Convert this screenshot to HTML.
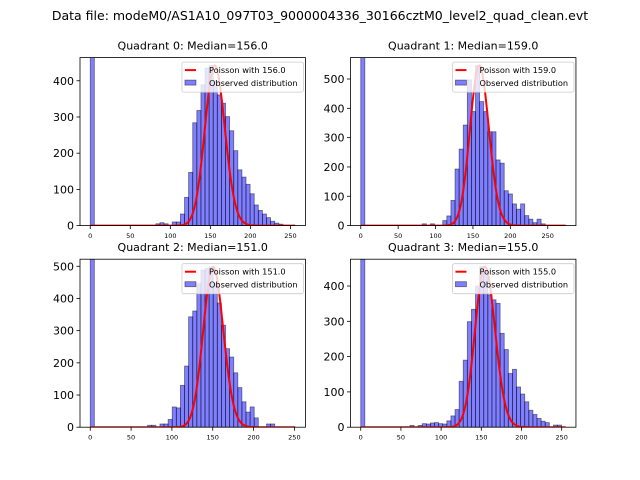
<!DOCTYPE html>
<html><head><meta charset="utf-8"><style>
body{margin:0;background:#fff}
svg{display:block;font-family:"DejaVu Sans","Liberation Sans",sans-serif}
</style></head><body>
<svg id="fig" width="640" height="480" viewBox="0 0 640 480" xmlns="http://www.w3.org/2000/svg">
<rect width="640" height="480" fill="#fff"/>
<text x="320" y="20" font-size="12.5" text-anchor="middle">Data file: modeM0/AS1A10_097T03_9000004336_30166cztM0_level2_quad_clean.evt</text>
</svg>
<script>
const quadNames = ["Quadrant 0","Quadrant 1","Quadrant 2","Quadrant 3"];
const medians = [156.0, 159.0, 151.0, 155.0];
const dataMax = [256, 274, 251, 255];
const yMax = [464, 573, 522, 476];
const yTicks0 = [0,100,200,300,400];
const yTicks1 = [0,100,200,300,400,500];
const yTicks2 = [0,100,200,300,400,500];
const yTicks3 = [0,100,200,300,400];
const xTicks = [0,50,100,150,200,250];
const counts0 = [1000,0,0,0,0,0,0,0,0,0,0,0,0,0,0,0,5,8,5,0,10,10,32,78,147,284,318,389,435,442,400,361,338,301,262,207,154,134,114,88,57,42,32,22,12,7,4,0,0,0];
const counts1 = [1000,0,0,0,0,0,0,0,0,0,0,0,0,0,0,6,0,6,0,0,17,33,86,193,261,343,497,389,546,423,389,320,320,224,213,119,108,74,56,74,34,22,10,22,6,0,0,0,0,0];
const counts2 = [1000,0,0,0,0,0,0,0,0,0,0,0,0,0,6,6,0,10,10,24,63,60,130,190,343,361,446,488,493,498,446,386,317,244,218,169,123,79,47,63,29,0,0,10,10,0,0,0,0,0];
const counts3 = [1000,0,0,0,0,0,0,0,0,0,0,0,5,0,5,10,9,12,13,10,9,18,32,50,130,190,299,334,400,455,440,375,361,351,266,220,152,164,114,94,72,48,36,25,17,13,0,6,6,0];
const allCounts = [counts0,counts1,counts2,counts3];
const allYTicks = [yTicks0,yTicks1,yTicks2,yTicks3];

const NS="http://www.w3.org/2000/svg";
const svg=document.getElementById('fig');
function mk(tag,attrs,parent){const e=document.createElementNS(NS,tag);for(const k in attrs)e.setAttribute(k,attrs[k]);(parent||svg).appendChild(e);return e;}
const boxes=[[80,57.6],[350.5,57.6],[80,259.2],[350.5,259.2]];
const W=225.45,H=168;
function lgamma(n){let s=0;for(let k=2;k<=n;k++)s+=Math.log(k);return s;}
for(let q=0;q<4;q++){
  const [L,T]=boxes[q];
  const xmin=-0.05*dataMax[q], xmax=1.05*dataMax[q];
  const sx=v=>L+(v-xmin)/(xmax-xmin)*W;
  const sy=v=>T+H-v/yMax[q]*H;
  const g=mk('g',{});
  
  
  const cp=mk('clipPath',{id:'c'+q},g);
  mk('rect',{x:L,y:T,width:W,height:H},cp);
  const plot=mk('g',{'clip-path':'url(#c'+q+')'},g);
  const cnt=allCounts[q], n=cnt.length, bw=dataMax[q]/n;
  cnt.forEach((c,i)=>{
    if(c<=0)return;
    const x0=sx(i*bw),x1=sx((i+1)*bw);
    const r=mk('rect',{x:x0,y:sy(c),width:x1-x0,height:sy(0)-sy(c),fill:'rgba(0,0,255,0.5)',stroke:'rgba(0,0,0,0.5)','stroke-width':0.8},plot);
    
    
  });
  const lam=medians[q];
  const peak=Math.max(...cnt.slice(1));
  let pts=[],pm=[],mx=0;
  for(let k=0;k<=dataMax[q];k++){const p=Math.exp(k*Math.log(lam)-lam-lgamma(k));pm.push(p);if(p>mx)mx=p;}
  pm.forEach((p,k)=>pts.push(sx(k).toFixed(2)+','+sy(p/mx*peak).toFixed(2)));
  const pl=mk('polyline',{points:pts.join(' '),fill:'none',stroke:'#ff0000','stroke-width':2},plot);
  
  
  mk('rect',{x:L,y:T,width:W,height:H,fill:'none',stroke:'#000','stroke-width':0.8},g);
  xTicks.forEach(t=>{
    if(t>xmax)return;
    mk('line',{x1:sx(t),x2:sx(t),y1:T+H,y2:T+H+3.5,stroke:'#000','stroke-width':0.8},g);
    const tx=mk('text',{x:sx(t),y:T+H+12.5,'font-size':6.5,'text-anchor':'middle'},g);
    tx.textContent=t;
    
    
  });
  allYTicks[q].forEach(t=>{
    mk('line',{x1:L-3.5,x2:L,y1:sy(t),y2:sy(t),stroke:'#000','stroke-width':0.8},g);
    const tx=mk('text',{x:L-6,y:sy(t)+4,'font-size':11,'text-anchor':'end'},g);
    tx.textContent=t;
    
    
  });
  const tt=mk('text',{x:L+W/2,y:T-8,'font-size':11,'text-anchor':'middle'},g);
  tt.textContent=quadNames[q]+': Median='+medians[q].toFixed(1);
  
  
  const lg=mk('g',{},g);
  
  
  const lx=L+W-123.5, ly=T+4.5;
  mk('rect',{x:lx,y:ly,width:121.5,height:30,rx:2,fill:'rgba(255,255,255,0.8)',stroke:'#ccc','stroke-width':0.8},lg);
  mk('line',{x1:lx+3,x2:lx+14,y1:ly+8,y2:ly+8,stroke:'#f00','stroke-width':2},lg);
  mk('rect',{x:lx+3,y:ly+18,width:11,height:5,fill:'rgba(0,0,255,0.5)',stroke:'rgba(0,0,0,0.5)','stroke-width':0.8},lg);
  const t1=mk('text',{x:lx+27,y:ly+11,'font-size':8.2},lg);t1.textContent='Poisson with '+medians[q].toFixed(1);
  
  
  const t2=mk('text',{x:lx+27,y:ly+24,'font-size':8.2},lg);t2.textContent='Observed distribution';
  
  
}
</script>
</body></html>
